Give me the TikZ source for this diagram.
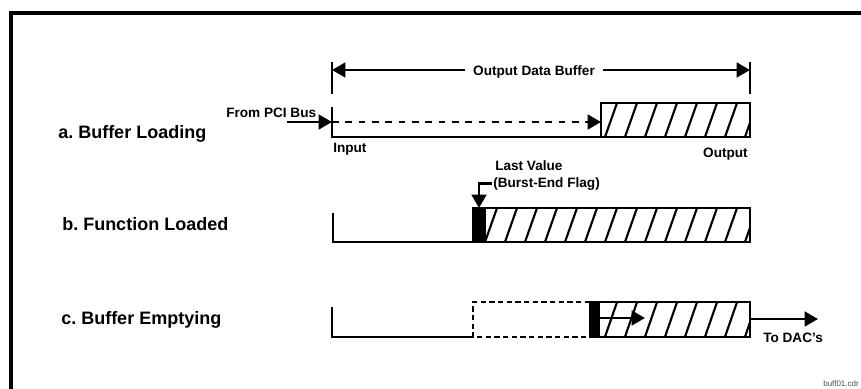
\documentclass[tikz,border=0pt]{standalone}
\usepackage{fontspec}
\setmainfont{Liberation Sans}
\usepackage{tikz}
\usetikzlibrary{arrows.meta,positioning}
\frenchspacing

% slanted hatching inside a box given by its corners (x1,ytop,x2,ybottom)
\newcommand{\hatchfill}[4]{%
  \begin{scope}
    \clip (#1,#2) rectangle (#3,#4);
    \foreach \t in {457,477,...,777}
      \draw[hatch] (\t-13.8,#4+5) -- (\t+1.8,#2-5);
  \end{scope}}

\begin{document}
\begin{tikzpicture}[x=0.75pt, y=-0.75pt,
  rowlabel/.style={font=\fontsize{13.5}{15}\selectfont\bfseries, anchor=base west, inner sep=0pt},
  tag/.style={font=\fontsize{10.2}{12}\selectfont\bfseries, inner sep=0pt},
  wall/.style={line width=2pt},
  hatch/.style={line width=1.6pt},
  arrow/.style={-{Triangle[length=10pt,width=11pt]}, line width=2pt},
  dotline/.style={line width=2pt, dash pattern=on 5pt off 5pt},
  frame/.style={line width=3.5pt}
]
\useasboundingbox (0,0) rectangle (861,389);

\draw[frame] (11,389) -- (11,13) -- (861,13);

% a. Buffer Loading
\node[rowlabel] (rowa) at (58,138) {a. Buffer Loading};
\coordinate (obl) at (332,70);
\coordinate (obr) at (750,70);
\draw[wall] (332,62) -- (332,94);
\draw[wall] (750,62) -- (750,94);
\node[tag, anchor=base, inner xsep=6pt] (odb) at (534,75) {Output Data Buffer};
\draw[arrow] (odb.west |- obl) -- (obl);
\draw[arrow] (odb.east |- obr) -- (obr);

\node[tag, anchor=base west] (pci) at (226,117) {From PCI Bus};
\coordinate (pcistart) at (287,122);
\coordinate (ain) at (332,122);
\coordinate (afill) at (601,122);
\hatchfill{601}{103}{750}{137}
\draw[wall] (601,103) rectangle (750,137);
\draw[wall] (332,107) -- (332,137) -- (601,137);
\draw[arrow] (pcistart) -- (ain);
\draw[dotline, -{Triangle[length=10pt,width=11pt]}] (ain) -- (afill);
\node[tag, anchor=base west] (inp) at (333,152) {Input};
\node[tag, anchor=base east] (outp) at (748,157) {Output};

% b. Function Loaded
\node[rowlabel] (rowb) at (62,230) {b. Function Loaded};
\draw[wall] (333,213) -- (333,242) -- (473,242);
\fill (473,208) rectangle (486,242);
\hatchfill{486}{208}{750}{242}
\draw[wall] (473,208) rectangle (750,242);
\node[tag, anchor=base west] (lastv) at (495,170) {Last Value};
\node[tag, anchor=base west] (flag) at (493,187) {(Burst-End Flag)};
\coordinate (bmark) at (479,208);
\draw[arrow] ([xshift=-1pt]flag.west) -| (bmark);

% c. Buffer Emptying
\node[rowlabel] (rowc) at (61,324) {c. Buffer Emptying};
\draw[wall] (332,307) -- (332,337) -- (473,337);
\draw[wall, dash pattern=on 4pt off 2.5pt] (590,302) -- (473,302) -- (473,337) -- (590,337);
\fill (590,302) rectangle (600,337);
\hatchfill{600}{302}{750}{337}
\draw[wall] (590,302) rectangle (750,337);
\coordinate (cmark) at (600,318);
\coordinate (cpush) at (645,318);
\draw[arrow] (cmark) -- (cpush);
\coordinate (cout) at (750,319);
\coordinate (cend) at (818,319);
\draw[arrow] (cout) -- (cend);
\node[tag, anchor=base west] (dac) at (763,342) {To DAC's};

\node[font=\fontsize{6}{7}\selectfont, text=black!70, anchor=base east, inner sep=0pt] (fname) at (859,386) {buff01.cdr};

\end{tikzpicture}
\end{document}
